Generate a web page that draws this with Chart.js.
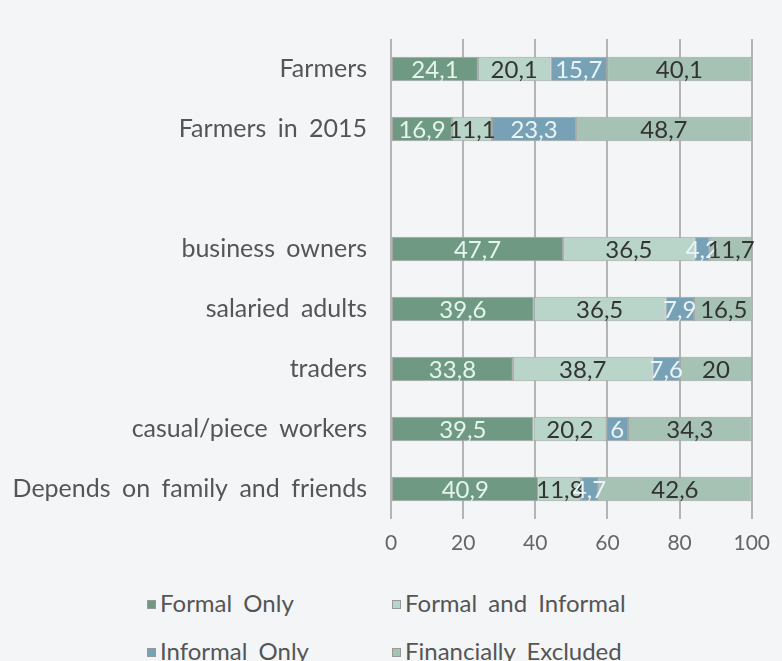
<!DOCTYPE html>
<html>
<head>
<meta charset="utf-8">
<script src="https://cdn.jsdelivr.net/npm/chart.js@4.4.0/dist/chart.umd.min.js"></script>
<style>
  html, body { margin: 0; padding: 0; background: #f4f5f7; }
  #wrap { position: relative; width: 782px; height: 661px; font-family: Lato, sans-serif; }
  #chartBox { position: absolute; left: 0; top: 0; width: 782px; height: 575px; }
  #legend { position: absolute; left: 0; top: 588px; width: 782px; }
  .item { position: absolute; font-size: 24px; color: #555; line-height: 30px; white-space: nowrap; word-spacing: 5px; }
  .item span.box { display: inline-block; width: 9px; height: 9px; margin-right: 4px; vertical-align: 3px; border: 1px solid #999; box-sizing: border-box; }
</style>
</head>
<body>
<div id="wrap">
  <div id="chartBox"><canvas id="barChart"></canvas></div>
  <div id="legend"></div>
</div>
<script>
  const categories = [
    "Farmers",
    "Farmers in 2015",
    "",
    "business owners",
    "salaried adults",
    "traders",
    "casual/piece workers",
    "Depends on family and friends",
  ];
  const formalOnly = [24.1, 16.9, null, 47.7, 39.6, 33.8, 39.5, 40.9];
  const formalAndInformal = [20.1, 11.1, null, 36.5, 36.5, 38.7, 20.2, 11.8];
  const informalOnly = [15.7, 23.3, null, 4.2, 7.9, 7.6, 6, 4.7];
  const financiallyExcluded = [40.1, 48.7, null, 11.7, 16.5, 20, 34.3, 42.6];
  const xTicks = [0, 20, 40, 60, 80, 100];

  const seriesNames = ["Formal Only", "Formal and Informal", "Informal Only", "Financially Excluded"];
  const seriesColors = ["#6f9983", "#b9d5ca", "#77a1b4", "#a5c2b5"];
  const labelColors = ["#e4f6ee", "#333333", "#e8f4f8", "#333333"];
  const seriesData = [formalOnly, formalAndInformal, informalOnly, financiallyExcluded];

  // espacio extra entre palabras, como en el original
  const wordGap = {
    id: "wordGap",
    beforeDraw(chart) {
      chart.ctx.wordSpacing = "5px";
    },
  };

  // etiquetas de valores dentro de cada segmento
  const valueLabels = {
    id: "valueLabels",
    afterDatasetsDraw(chart) {
      const ctx = chart.ctx;
      ctx.save();
      ctx.font = "24px Lato, sans-serif";
      ctx.textAlign = "center";
      ctx.textBaseline = "middle";
      chart.data.datasets.forEach(function (ds, i) {
        const meta = chart.getDatasetMeta(i);
        meta.data.forEach(function (bar, j) {
          const v = ds.data[j];
          if (v === null || v === undefined) return;
          const cx = (bar.x + bar.base) / 2;
          ctx.fillStyle = labelColors[i];
          ctx.fillText(String(v).replace(".", ","), cx, bar.y + 1);
        });
      });
      ctx.restore();
    },
  };

  const ctx = document.getElementById("barChart").getContext("2d");
  new Chart(ctx, {
    type: "bar",
    data: {
      labels: categories,
      datasets: seriesNames.map(function (name, i) {
        return {
          label: name,
          data: seriesData[i],
          backgroundColor: seriesColors[i],
          borderColor: "#a3a6a4",
          borderWidth: 1,
          borderSkipped: false,
          categoryPercentage: 1,
          barPercentage: 0.41,
        };
      }),
    },
    options: {
      indexAxis: "y",
      responsive: true,
      maintainAspectRatio: false,
      animation: false,
      layout: { padding: { top: 19, right: 20, left: 0, bottom: 0 } },
      scales: {
        x: {
          stacked: true,
          min: 0,
          max: 100,
          afterBuildTicks: function (scale) {
            scale.ticks = xTicks.map(function (v) { return { value: v }; });
          },
          afterFit: function (scale) { scale.height = 56; },
          grid: { color: "#b4b4b4", lineWidth: 2, drawTicks: false },
          border: { display: false },
          ticks: { padding: 12, color: "#666", font: { family: "Lato", size: 21 } },
        },
        y: {
          stacked: true,
          afterFit: function (scale) { scale.width = 391; },
          grid: { display: false, drawTicks: false },
          border: { display: false },
          ticks: { padding: 24, color: "#555", font: { family: "Lato", size: 25 } },
        },
      },
      plugins: {
        legend: { display: false },
        tooltip: { enabled: false },
      },
    },
    plugins: [wordGap, valueLabels],
  });

  // leyenda en dos columnas
  const legendEl = document.getElementById("legend");
  const legendPos = [[147, 0], [392, 0], [147, 48], [392, 48]];
  seriesNames.forEach(function (name, i) {
    const item = document.createElement("div");
    item.className = "item";
    item.style.left = legendPos[i][0] + "px";
    item.style.top = legendPos[i][1] + "px";
    item.innerHTML = '<span class="box" style="background:' + seriesColors[i] + '"></span>' + name;
    legendEl.appendChild(item);
  });
</script>
</body>
</html>
